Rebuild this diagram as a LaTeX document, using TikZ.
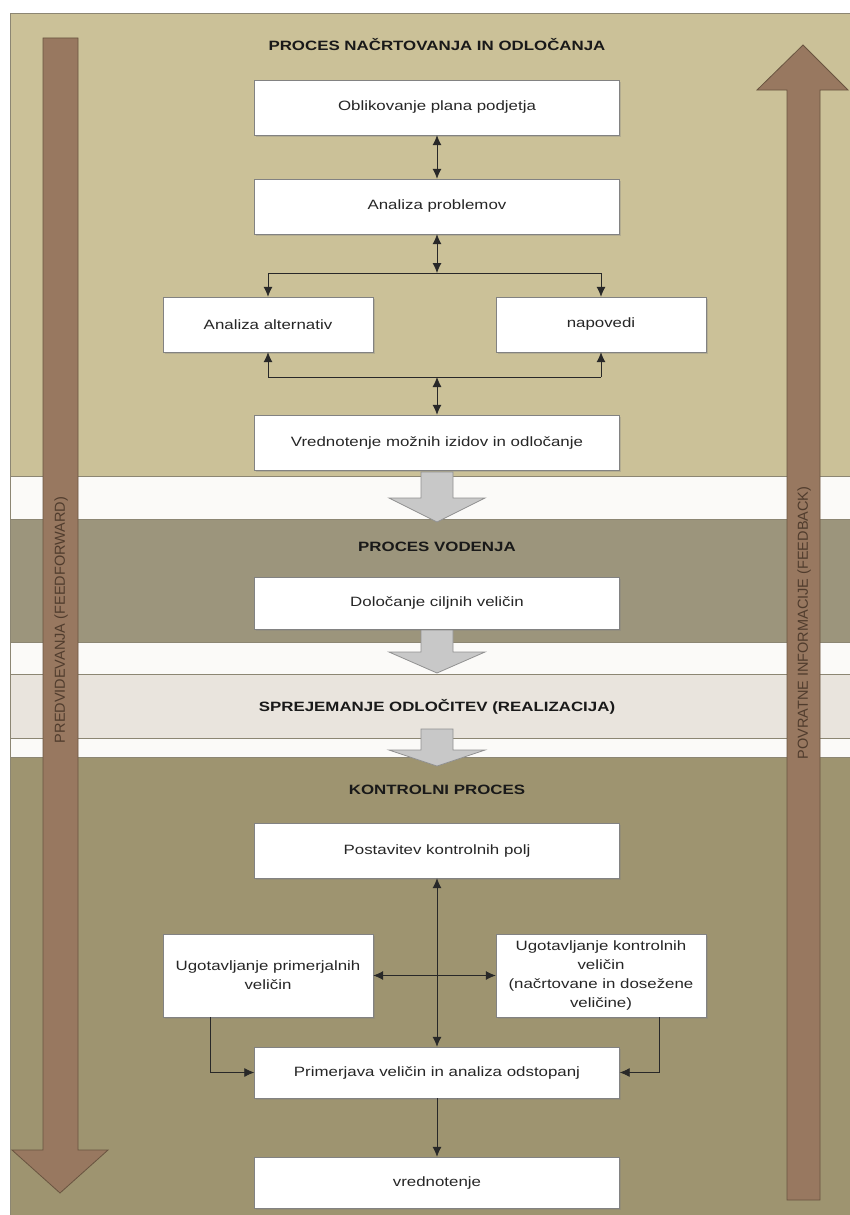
\documentclass[tikz,border=0pt]{standalone}
\usepackage{fontspec}
\setmainfont[FakeStretch=1.25]{Liberation Sans}
\newfontfamily\sidefont{Liberation Sans}
\usepackage{xcolor}
\usepackage{tikz}
\usetikzlibrary{positioning,calc,arrows.meta,shadows}

\definecolor{planTan}{RGB}{203,193,152}
\definecolor{leadTaupe}{RGB}{156,149,124}
\definecolor{realGrey}{RGB}{233,228,221}
\definecolor{ctrlOlive}{RGB}{158,148,112}
\definecolor{stripeWhite}{RGB}{251,250,248}
\definecolor{bandEdge}{RGB}{140,134,115}
\definecolor{flowBrown}{RGB}{152,120,96}
\definecolor{flowEdge}{RGB}{105,84,64}
\definecolor{flowText}{RGB}{80,60,45}
\definecolor{stepGrey}{RGB}{200,200,200}
\definecolor{stepEdge}{RGB}{145,145,145}
\definecolor{boxEdge}{RGB}{130,130,130}
\definecolor{linkGrey}{RGB}{40,40,40}

\tikzset{
  band/.style={draw=bandEdge, line width=0.8pt},
  procbox/.style={draw=boxEdge, fill=white, minimum width=365pt, minimum height=55pt,
    font=\fontsize{13.5}{19}\selectfont, text=black!85, align=center,
    drop shadow={shadow xshift=1.5pt, shadow yshift=-1.5pt, opacity=0.3}},
  sidebox/.style={procbox, minimum width=210pt},
  phase/.style={font=\bfseries\fontsize{13.5}{16}\selectfont, text=black!90},
  flowtext/.style={font=\sidefont\fontsize{14.5}{16}\selectfont, text=flowText, rotate=90},
  bigarrow/.style={draw=flowEdge, fill=flowBrown, line width=0.8pt},
  stepArrow/.style={draw=stepEdge, fill=stepGrey, line width=0.8pt},
  link/.style={draw=linkGrey, line width=0.8pt},
  tipped/.style={link, -{Latex[length=10pt,width=9pt]}},
  dbl/.style={link, {Latex[length=10pt,width=9pt]}-{Latex[length=10pt,width=9pt]}}
}

\begin{document}
\begin{tikzpicture}[x=1pt, y=-1pt]
  \useasboundingbox (0,0) rectangle (850,1215);

  % background bands
  \fill[white] (0,0) rectangle (850,1215);
  \draw[band, fill=planTan] (10,13) rectangle (852,476);
  \draw[band, fill=stripeWhite] (10,476) rectangle (852,519);
  \draw[band, fill=leadTaupe] (10,519) rectangle (852,642);
  \draw[band, fill=stripeWhite] (10,642) rectangle (852,674);
  \draw[band, fill=realGrey] (10,674) rectangle (852,738);
  \draw[band, fill=stripeWhite] (10,738) rectangle (852,757);
  \draw[band, fill=ctrlOlive] (10,757) rectangle (852,1217);

  % feedforward / feedback arrows
  \draw[bigarrow] (43,38) -- (78,38) -- (78,1150) -- (108,1150) -- (60,1193) -- (12,1150) -- (43,1150) -- cycle;
  \draw[bigarrow] (787,1200) -- (820,1200) -- (820,90) -- (848,90) -- (803,45) -- (757,90) -- (787,90) -- cycle;
  \node[flowtext] (feedFwd) at (61,620) {PREDVIDEVANJA (FEEDFORWARD)};
  \node[flowtext] (feedBack) at (804,623) {POVRATNE INFORMACIJE (FEEDBACK)};

  % grey step arrows between the phases
  \foreach \yTop/\yBase/\yTip in {472/498/522, 629/652/673, 729/750/766}
    \draw[stepArrow] (421,\yTop) -- (453,\yTop) -- (453,\yBase) -- (485,\yBase) -- (437,\yTip) -- (389,\yBase) -- (421,\yBase) -- cycle;

  % planning and decision process
  \node[phase] (planTitle) at (437,45) {PROCES NAČRTOVANJA IN ODLOČANJA};
  \node[procbox] (oblikovanje) at (437,107.5) {Oblikovanje plana podjetja};
  \node[procbox] (analizaProb) at (437,206.5) {Analiza problemov};
  \node[sidebox] (analizaAlt) at (268,324.5) {Analiza alternativ};
  \node[sidebox] (napovedi) at (601,324.5) {napovedi};
  \node[procbox] (vrednotenjeIz) at (437,442.5) {Vrednotenje možnih izidov in odločanje};
  \coordinate (splitC) at (437,273);
  \coordinate (mergeC) at (437,377);

  \draw[dbl] (oblikovanje) -- (analizaProb);
  \draw[dbl] (analizaProb) -- (splitC);
  \draw[link] (analizaAlt.north |- splitC) -- (napovedi.north |- splitC);
  \draw[tipped] (analizaAlt.north |- splitC) -- (analizaAlt);
  \draw[tipped] (napovedi.north |- splitC) -- (napovedi);
  \draw[link] (analizaAlt.south |- mergeC) -- (napovedi.south |- mergeC);
  \draw[tipped] (analizaAlt.south |- mergeC) -- (analizaAlt);
  \draw[tipped] (napovedi.south |- mergeC) -- (napovedi);
  \draw[dbl] (mergeC) -- (vrednotenjeIz);

  % leading process
  \node[phase] (leadTitle) at (437,547) {PROCES VODENJA};
  \node[procbox, minimum height=52pt] (dolocanje) at (437,603) {Določanje ciljnih veličin};

  % realisation
  \node[phase] (realTitle) at (437,707) {SPREJEMANJE ODLOČITEV (REALIZACIJA)};

  % control process
  \node[phase] (ctrlTitle) at (437,790) {KONTROLNI PROCES};
  \node[procbox] (postavitev) at (437,850.5) {Postavitev kontrolnih polj};
  \node[sidebox, minimum height=83pt] (ugotPrim) at (268,975.5) {Ugotavljanje primerjalnih\\veličin};
  \node[sidebox, minimum height=83pt] (ugotKontr) at (601,975.5) {Ugotavljanje kontrolnih\\veličin\\(načrtovane in dosežene\\veličine)};
  \node[procbox, minimum height=51pt] (primerjava) at (437,1072.5) {Primerjava veličin in analiza odstopanj};
  \node[procbox, minimum height=51pt] (vrednotenje) at (437,1182.5) {vrednotenje};

  \draw[dbl] (postavitev) -- (primerjava);
  \draw[dbl] (ugotPrim) -- (ugotKontr);
  \draw[tipped] ([xshift=-58pt]ugotPrim.south) |- (primerjava.west);
  \draw[tipped] ([xshift=58pt]ugotKontr.south) |- (primerjava.east);
  \draw[tipped] (primerjava) -- (vrednotenje);
\end{tikzpicture}
\end{document}
